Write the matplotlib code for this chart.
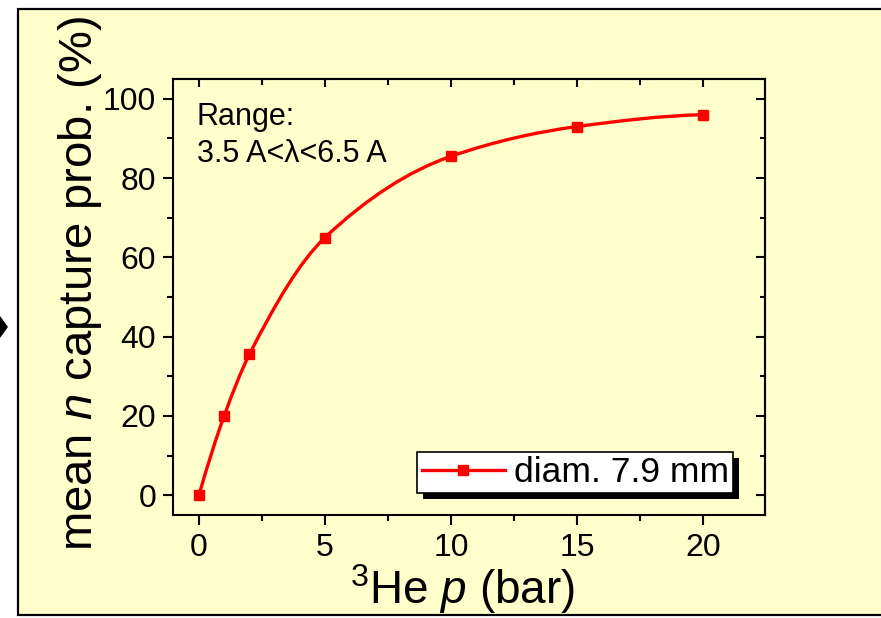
import numpy as np
import matplotlib
matplotlib.use("Agg")
import matplotlib.pyplot as plt
from matplotlib.path import Path
from matplotlib.patches import PathPatch, Rectangle, Polygon
from matplotlib.ticker import MultipleLocator
from matplotlib.transforms import IdentityTransform

# data
pressure = [0, 1, 2, 5, 10, 15, 20]                 # 3He pressure (bar)
capture = [0, 20, 35.5, 65, 85.5, 93, 96]           # mean capture prob. (%)
x_ticks = [0, 5, 10, 15, 20]
y_ticks = [0, 20, 40, 60, 80, 100]
series_label = "diam. 7.9 mm"
note_lines = ["Range:", "3.5 A<\u03bb<6.5 A"]

plt.rcParams["font.family"] = ["Liberation Sans", "DejaVu Sans"]
plt.rcParams["mathtext.fontset"] = "custom"
plt.rcParams["mathtext.rm"] = "Liberation Sans"
plt.rcParams["mathtext.it"] = "Liberation Sans:italic"

W, H = 881, 618
fig = plt.figure(figsize=(W / 100, H / 100), dpi=100)
fig.patch.set_facecolor("white")

# yellow page with black frame
page = Rectangle((18 / W, 3 / H), 1.0, (615 - 9) / H, transform=fig.transFigure,
                 facecolor="#FFFFCC", edgecolor="black", linewidth=1.6, zorder=-10)
fig.patches.append(page)
# small arrow head at the left edge
arrow = Polygon([(0, 1 - 316 / H), (8 / W, 1 - 327 / H), (0, 1 - 338 / H)],
                closed=True, transform=fig.transFigure, facecolor="black",
                edgecolor="none")
fig.patches.append(arrow)

ax = fig.add_axes([173 / W, 1 - 515 / H, 592 / W, 436 / H])
ax.set_facecolor("none")
ax.set_xlim(-1.03, 22.46)
ax.set_ylim(-5, 105)

# smooth line through the points (monotone cubic drawn as bezier segments)
x = np.array(pressure, float)
y = np.array(capture, float)
h = np.diff(x)
d = np.diff(y) / h
m = np.zeros_like(y)
for i in range(1, len(x) - 1):
    w1 = 2 * h[i] + h[i - 1]
    w2 = h[i] + 2 * h[i - 1]
    m[i] = (w1 + w2) / (w1 / d[i - 1] + w2 / d[i])
m[0] = ((2 * h[0] + h[1]) * d[0] - h[0] * d[1]) / (h[0] + h[1])
m[-1] = ((2 * h[-1] + h[-2]) * d[-1] - h[-1] * d[-2]) / (h[-1] + h[-2])
verts = [(x[0], y[0])]
codes = [Path.MOVETO]
for i in range(len(x) - 1):
    verts += [(x[i] + h[i] / 3, y[i] + m[i] * h[i] / 3),
              (x[i + 1] - h[i] / 3, y[i + 1] - m[i + 1] * h[i] / 3),
              (x[i + 1], y[i + 1])]
    codes += [Path.CURVE4] * 3
ax.add_patch(PathPatch(Path(verts, codes), facecolor="none", edgecolor="red",
                       linewidth=2.4, zorder=3))
ax.plot(pressure, capture, linestyle="none", marker="s", markersize=7.5,
        color="red", zorder=4)

# handle for legend
handle, = ax.plot([], [], color="red", linewidth=2.4, marker="s", markersize=7.5)

for s in ax.spines.values():
    s.set_linewidth(1.5)

ax.set_xticks(x_ticks)
ax.set_yticks(y_ticks)
ax.xaxis.set_minor_locator(MultipleLocator(2.5))
ax.yaxis.set_minor_locator(MultipleLocator(10))
ax.tick_params(which="both", direction="out", width=1.5, labelsize=23,
               top=False, right=False)
ax.tick_params(which="major", length=7)
ax.tick_params(which="minor", length=4.3)
ax.tick_params(axis="x", pad=6)
ax.tick_params(axis="y", pad=5)

top = ax.secondary_xaxis("top")
top.set_xticks(x_ticks)
top.xaxis.set_minor_locator(MultipleLocator(2.5))
top.tick_params(which="both", direction="in", width=1.5, labeltop=False)
top.tick_params(which="major", length=6)
top.tick_params(which="minor", length=4)
top.spines["top"].set_linewidth(1.5)

right = ax.secondary_yaxis("right")
right.set_yticks(y_ticks)
right.yaxis.set_minor_locator(MultipleLocator(10))
right.tick_params(which="both", direction="in", width=1.5, labelright=False)
right.tick_params(which="major", length=6.5)
right.tick_params(which="minor", length=3.8)
right.spines["right"].set_linewidth(1.5)

# note text
ax.text(0.0405, 0.894, note_lines[0], transform=ax.transAxes, fontsize=22,
        va="baseline")
ax.text(0.0405, 0.810, note_lines[1], transform=ax.transAxes, fontsize=22,
        va="baseline")

leg = ax.legend([handle], [series_label], loc="lower right",
                bbox_to_anchor=(0.946, 0.050), borderaxespad=0, fontsize=25.5,
                fancybox=False, framealpha=1, edgecolor="black",
                borderpad=0.12, handlelength=2.35, handletextpad=0.25)
leg.get_frame().set_linewidth(1.2)
leg.set_zorder(6)

# axis labels
fig.text(80 / W, 1 - 284 / H, "mean $\\mathit{n}$ capture prob. (%)",
         rotation=90, ha="center", va="center", fontsize=34)
fig.text(463 / W, 1 - 604 / H, "$^{3}$He $\\mathit{p}$ (bar)",
         ha="center", va="baseline", fontsize=33)

# black shadow behind the legend
fig.canvas.draw()
bb = leg.get_window_extent()
shadow = Rectangle((bb.x0 + 6, bb.y0 - 6), bb.width, bb.height,
                   transform=IdentityTransform(), facecolor="black",
                   edgecolor="none", zorder=5.5, clip_on=False)
ax.add_patch(shadow)

fig.savefig("out.png", dpi=100)
